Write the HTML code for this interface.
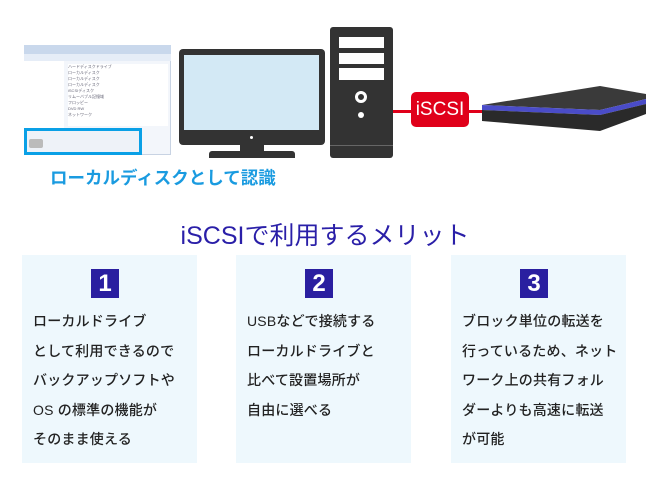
<!DOCTYPE html>
<html><head><meta charset="utf-8"><style>
*{margin:0;padding:0;box-sizing:border-box}
body{width:650px;height:488px;background:#fff;position:relative;overflow:hidden;font-family:"Liberation Sans","Noto Sans CJK JP",sans-serif}
.a{position:absolute}
.card{position:absolute;top:255px;width:175px;height:208px;background:#eef8fd}
.num{position:absolute;left:69px;top:14px;width:28px;height:29px;background:#2a1fa0;color:#fff;font-weight:bold;font-size:24px;text-align:center;line-height:29px}
.txt{position:absolute;left:11px;top:52px;font-size:14px;letter-spacing:0.2px;line-height:29.5px;color:#222;white-space:nowrap;font-weight:500}
</style></head><body>
<!-- explorer screenshot -->
<div class="a" style="left:24px;top:45px;width:147px;height:110px;background:#f3f6fb;border:1px solid #c8d3e3"></div>
<div class="a" style="left:24px;top:45px;width:147px;height:9px;background:#c9d8ec"></div>
<div class="a" style="left:24px;top:54px;width:147px;height:7px;background:#e6edf7"></div>
<div class="a" style="left:24px;top:61px;width:40px;height:67px;background:#fff"></div>
<div class="a" style="left:68px;top:64px;width:100px;height:62px;background:#fff;font-size:4px;color:#667;line-height:6px">ハードディスクドライブ<br>ローカルディスク<br>ローカルディスク<br>ローカルディスク<br>iSCSIディスク<br>リムーバブル記憶域<br>フロッピー<br>DVD RW<br>ネットワーク</div>
<div class="a" style="left:24px;top:128px;width:118px;height:27px;border:3px solid #0aa0e6;background:#eef2f8"></div>
<div class="a" style="left:29px;top:139px;width:14px;height:9px;background:#bbb;border-radius:2px"></div>
<!-- monitor -->
<div class="a" style="left:179px;top:49px;width:146px;height:96px;background:#333;border-radius:4px"></div>
<div class="a" style="left:184px;top:55px;width:135px;height:75px;background:#d3e9f5"></div>
<div class="a" style="left:250px;top:136px;width:3px;height:3px;background:#fff;border-radius:50%"></div>
<div class="a" style="left:240px;top:145px;width:24px;height:6px;background:#333"></div>
<div class="a" style="left:209px;top:151px;width:86px;height:7px;background:#333;border-radius:3px 3px 0 0"></div>
<div class="a" style="left:50px;top:165px;font-size:17.5px;font-weight:bold;color:#1a9be0">ローカルディスクとして認識</div>
<!-- tower -->
<div class="a" style="left:330px;top:27px;width:63px;height:131px;background:#333;border-radius:3px"></div>
<div class="a" style="left:339px;top:37px;width:45px;height:11px;background:#fff"></div>
<div class="a" style="left:339px;top:53px;width:45px;height:11px;background:#fff"></div>
<div class="a" style="left:339px;top:68px;width:45px;height:12px;background:#fff"></div>
<div class="a" style="left:355px;top:91px;width:12px;height:12px;border:3px solid #fff;border-radius:50%"></div>
<div class="a" style="left:358px;top:112px;width:6px;height:6px;background:#fff;border-radius:50%"></div>
<div class="a" style="left:330px;top:145px;width:63px;height:1px;background:#666"></div>
<!-- iscsi -->
<div class="a" style="left:393px;top:110px;width:90px;height:3px;background:#e0001a"></div>
<div class="a" style="left:411px;top:92px;width:58px;height:35px;background:#e0001a;border-radius:5px;color:#fff;font-size:19px;text-align:center;line-height:35px">iSCSI</div>
<!-- server -->
<svg class="a" style="left:480px;top:84px" width="168" height="50">
<polygon points="2,21 120,2 166,10 166,15 120,26 2,21" fill="#3a3a3a"/>
<polygon points="2,21 120,26 166,15 166,20 120,31 2,26" fill="#4a4cc8"/>
<polygon points="2,26 120,31 166,20 166,30 120,47 2,37" fill="#2a2a2a"/>
</svg>
<!-- title -->
<div class="a" style="left:0;top:216px;width:650px;text-align:center;font-size:25px;color:#2a1fa8">iSCSIで利用するメリット</div>
<div class="card" style="left:22px"><div class="num">1</div><div class="txt">ローカルドライブ<br>として利用できるので<br>バックアップソフトや<br>OS の標準の機能が<br>そのまま使える</div></div>
<div class="card" style="left:236px"><div class="num">2</div><div class="txt">USBなどで接続する<br>ローカルドライブと<br>比べて設置場所が<br>自由に選べる</div></div>
<div class="card" style="left:451px"><div class="num">3</div><div class="txt">ブロック単位の転送を<br>行っているため、ネット<br>ワーク上の共有フォル<br>ダーよりも高速に転送<br>が可能</div></div>
</body></html>
